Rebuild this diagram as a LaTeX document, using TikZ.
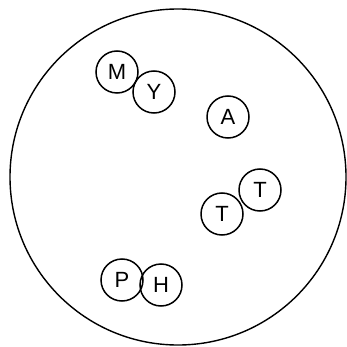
\documentclass[tikz,border=0pt]{standalone}
\usepackage{fontspec}
\setmainfont{Liberation Sans}
\begin{document}
\begin{tikzpicture}[x=1pt,y=-1pt,
  letter/.style={circle,draw,line width=1.5pt,minimum size=42pt,inner sep=0pt,font=\fontsize{22}{22}\selectfont}]
\useasboundingbox (0,0) rectangle (347,347);
\fill[white] (0,0) rectangle (347,347);
\node[circle,draw,line width=1.4pt,minimum size=336pt,inner sep=0pt] (big) at (178,177) {};
\node[letter] (m) at (117,72) {M};
\node[letter] (y) at (154,92) {Y};
\node[letter] (a) at (228,117) {A};
\node[letter] (t1) at (260,190) {T};
\node[letter] (t2) at (222,214) {T};
\node[letter] (p) at (122,280) {P};
\node[letter] (h) at (161,285) {H};
\end{tikzpicture}
\end{document}
